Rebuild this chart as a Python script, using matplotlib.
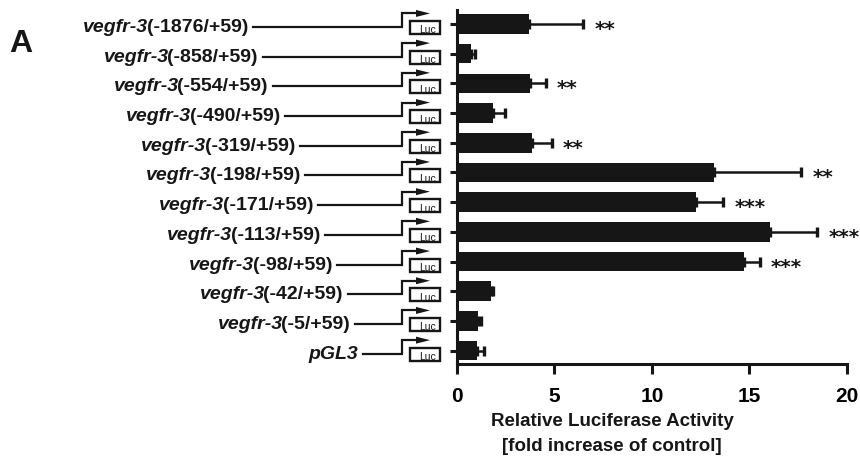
import matplotlib
matplotlib.use("Agg")
import matplotlib.pyplot as plt
from matplotlib.patches import Rectangle, Polygon
from matplotlib.lines import Line2D
import numpy as np

# ---------------- data ----------------
gene = "vegfr-3"
constructs = ["(-1876/+59)", "(-858/+59)", "(-554/+59)", "(-490/+59)", "(-319/+59)",
              "(-198/+59)", "(-171/+59)", "(-113/+59)", "(-98/+59)", "(-42/+59)",
              "(-5/+59)", "pGL3"]
activity = [3.70, 0.72, 3.75, 1.87, 3.87, 13.17, 12.24, 16.04, 14.71, 1.74, 1.11, 1.06]
error = [2.78, 0.22, 0.81, 0.60, 0.99, 4.49, 1.43, 2.44, 0.82, 0.13, 0.12, 0.35]
significance = ["**", "", "**", "", "**", "**", "***", "***", "***", "", "", ""]
xticks = [0, 5, 10, 15, 20]
xlabel_lines = ["Relative Luciferase Activity", "[fold increase of control]"]
panel = "A"

# ---------------- layout (pixels) ----------------
label_ends = [248, 258, 268, 280, 295, 300, 313, 320, 332, 343, 350, 358]

plt.rcParams["font.family"] = ["Liberation Sans", "DejaVu Sans"]
W, H = 860, 461
fig = plt.figure(figsize=(W / 100, H / 100), dpi=100)
ax = fig.add_axes([456.7 / W, 96.7 / H, 390.3 / W, (451 - 96.7) / H])

n = len(activity)
rows = np.arange(n)
dark = "#161616"
ax.barh(rows, activity, height=0.66, color=dark,
        xerr=[np.zeros(n), error],
        error_kw=dict(ecolor=dark, elinewidth=1.8, capsize=3.8, capthick=2.4))
ax.set_xlim(0, 20)
ax.set_ylim(n - 1 + 0.46, -0.47)
ax.set_xticks(xticks)
ax.set_xticklabels([str(t) for t in xticks], fontsize=15, fontweight="bold")
ax.set_yticks(rows)
ax.set_yticklabels([])
for s in ["top", "right"]:
    ax.spines[s].set_visible(False)
for s in ["left", "bottom"]:
    ax.spines[s].set_linewidth(2.2)
    ax.spines[s].set_color(dark)
ax.tick_params(axis="x", length=7.5, width=2.2, pad=9, color=dark)
ax.tick_params(axis="y", length=5, width=2.2, color=dark)

for i, (v, e, s) in enumerate(zip(activity, error, significance)):
    if s:
        ax.annotate(s, xy=(v + e, i), xytext=(11, -11), textcoords="offset pixels",
                    ha="left", va="baseline", fontsize=14.5, fontweight="bold",
                    family="DejaVu Sans", color=dark)

# overlay in image pixel coordinates
ov = fig.add_axes([0, 0, 1, 1], zorder=5)
ov.set_xlim(0, W)
ov.set_ylim(H, 0)
ov.axis("off")
ov.patch.set_alpha(0)

renderer = fig.canvas.get_renderer()
for i, (c, xend) in enumerate(zip(constructs, label_ends)):
    yc = H - ax.transData.transform((0, i))[1]
    ly = yc + 3
    ov.add_line(Line2D([xend + 5, 402, 402, 418], [ly, ly, yc - 10.5, yc - 10.5],
                       color=dark, lw=1.6, solid_joinstyle="miter"))
    ov.add_patch(Polygon([(416, yc - 14), (430, yc - 10.5), (416, yc - 7)],
                         closed=True, color=dark, lw=0))
    ov.add_patch(Rectangle((410, yc - 3), 30, 13, facecolor="white",
                           edgecolor=dark, lw=1.7))
    ov.text(427, yc + 9.5, "Luc", fontsize=7.5, ha="center", va="baseline",
            color=dark, clip_on=False)
    base = yc + 8
    if c == "pGL3":
        ov.text(xend, base, c, ha="right", va="baseline", fontsize=14,
                fontweight="bold", style="italic", color=dark)
    else:
        t = ov.text(xend, base, c, ha="right", va="baseline", fontsize=14,
                    fontweight="bold", color=dark)
        w = t.get_window_extent(renderer).width
        ov.text(xend - w + 1.5, base, gene, ha="right", va="baseline", fontsize=14,
                fontweight="bold", style="italic", color=dark)

ov.text(612, 421.7, xlabel_lines[0], ha="center", va="center", fontsize=13.5,
        fontweight="bold", color=dark)
ov.text(612, 446.7, xlabel_lines[1], ha="center", va="center", fontsize=13.5,
        fontweight="bold", color=dark)
ov.text(21, 43.5, panel, ha="center", va="center", fontsize=23,
        fontweight="bold", color=dark)

fig.savefig("out.png", dpi=100)
